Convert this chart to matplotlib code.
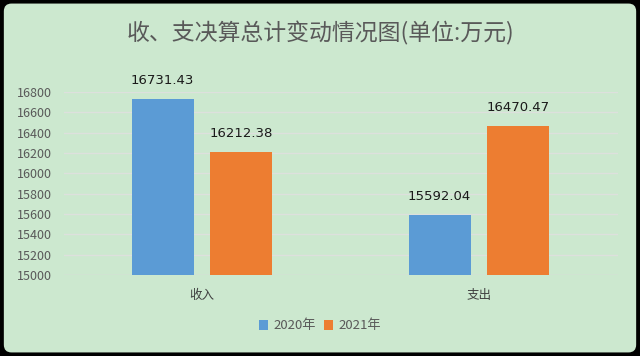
import matplotlib
matplotlib.use("Agg")
import matplotlib.pyplot as plt
from matplotlib.patches import FancyBboxPatch
import numpy as np

plt.rcParams['font.family'] = ['Noto Sans CJK SC', 'DejaVu Sans']

categories = ["收入", "支出"]
series_names = ["2020年", "2021年"]
values_2020 = [16731.43, 15592.04]
values_2021 = [16212.38, 16470.47]
colors = ["#5B9BD5", "#ED7D31"]
yticks = list(range(15000, 16801, 200))
title = "收、支决算总计变动情况图(单位:万元)"

fig = plt.figure(figsize=(6.4, 3.56), dpi=100)
fig.patch.set_facecolor("black")
bg = FancyBboxPatch((0.006, 0.01), 0.988, 0.98, boxstyle="round,pad=0,rounding_size=0.012",
                    transform=fig.transFigure, facecolor="#CCE8CF", edgecolor="none",
                    mutation_aspect=640/356, zorder=-10)
fig.patches.append(bg)

ax = fig.add_axes([63.5/640, 81/356, 554/640, 183/356])
ax.set_zorder(1)
ax.set_facecolor("none")
x = np.arange(len(categories))
w = 0.224
off = 0.142
b1 = ax.bar(x - off, values_2020, w, color=colors[0], label=series_names[0], zorder=3)
b2 = ax.bar(x + off, values_2021, w, color=colors[1], label=series_names[1], zorder=3)
for bars, vals in ((b1, values_2020), (b2, values_2021)):
    for r, v in zip(bars, vals):
        ax.text(r.get_x() + r.get_width()/2, v + 115, f"{v:.2f}", ha="center", va="bottom",
                fontsize=9.5, color="#1a1a1a", family=['DejaVu Sans'], clip_on=False)

ax.set_xlim(-0.5, 1.5)
ax.set_ylim(15000, 16800)
ax.set_yticks(yticks)
ax.set_yticklabels([str(t) for t in yticks], fontsize=9, color="#595959")
ax.set_xticks(x)
ax.set_xticklabels(categories, fontsize=9, color="#404040")
ax.tick_params(axis="y", length=0, pad=8)
ax.tick_params(axis="x", length=0, pad=10)
ax.yaxis.grid(True, color="#DDE0DD", linewidth=1, zorder=0)
for s in ax.spines.values():
    s.set_visible(False)
ax.axhline(15000, color="#D9D9D9", linewidth=1, zorder=2)

fig.text(0.5, 1 - 33/356, title, ha="center", va="center", fontsize=16.5, color="#595959")
leg = fig.legend(handles=[b1, b2], labels=series_names, loc="center", bbox_to_anchor=(0.5, 1 - 326/356),
                 ncol=2, frameon=False, fontsize=9.5, handlelength=0.7, handleheight=0.7,
                 handletextpad=0.4, columnspacing=0.6)
for t in leg.get_texts():
    t.set_color("#595959")

fig.savefig("out.png", dpi=100, facecolor=fig.get_facecolor())
